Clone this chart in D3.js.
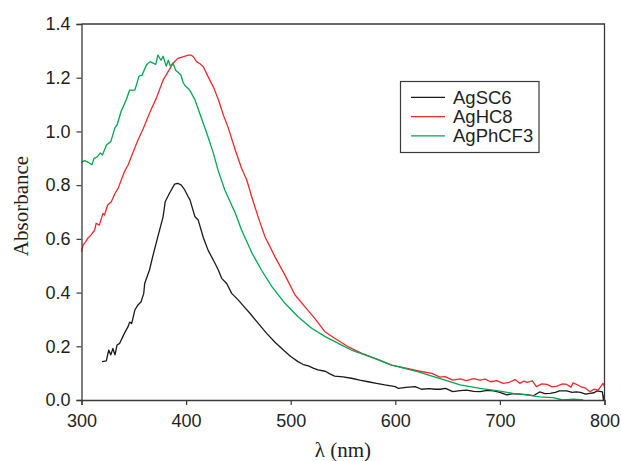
<!DOCTYPE html>
<html>
<head>
<meta charset="utf-8">
<script src="https://cdn.jsdelivr.net/npm/d3@7"></script>
<style>
  body { margin: 0; background: #fff; }
  svg { display: block; }
  .tick text { font-family: "Liberation Sans", Arial, sans-serif; font-size: 18px; fill: #231f20; }
  .title { font-family: "Liberation Serif", "Times New Roman", serif; font-size: 21px; fill: #231f20; }
  .legend text { font-family: "Liberation Sans", Arial, sans-serif; font-size: 18.5px; fill: #231f20; }
</style>
</head>
<body>
<div id="chart"></div>
<script>
const seriesNames = ['AgSC6', 'AgHC8', 'AgPhCF3'];
const seriesColors = ['#1a1a1a', '#ec2a2f', '#00a84f'];

const xTicks = [300, 400, 500, 600, 700, 800];
const yTicks = [0, 0.2, 0.4, 0.6, 0.8, 1.0, 1.2, 1.4];

const waveSC6 = [319.6, 323.7, 326, 328, 330, 332, 334, 336.5, 341, 344.5, 346, 348, 351, 354, 357, 359.5, 360.4, 365, 368, 373, 378, 380, 384, 389, 392, 395.4, 398.7, 402, 403.7, 408.5, 411.6, 416.5, 421, 427.6, 430.8, 434, 438.8, 443.6, 450, 456, 461, 469, 477, 485, 493, 500, 507, 512, 517, 522, 526, 533, 537, 542, 550, 558, 566, 574, 582, 590, 600, 603, 610, 619, 625, 632, 638, 643, 648, 655, 662, 668, 675, 681, 688, 694, 700, 706.5, 713, 719, 725, 732, 738, 743, 748, 753, 757, 764, 769, 773, 777, 782, 786, 790, 793, 798, 799, 800];
const absSC6 = [0.143, 0.146, 0.186, 0.168, 0.192, 0.168, 0.205, 0.211, 0.248, 0.273, 0.290, 0.285, 0.335, 0.354, 0.366, 0.397, 0.434, 0.484, 0.533, 0.608, 0.682, 0.738, 0.769, 0.804, 0.807, 0.800, 0.782, 0.757, 0.745, 0.682, 0.670, 0.604, 0.558, 0.509, 0.484, 0.453, 0.434, 0.397, 0.372, 0.345, 0.323, 0.285, 0.248, 0.215, 0.186, 0.162, 0.143, 0.132, 0.127, 0.118, 0.112, 0.107, 0.098, 0.089, 0.086, 0.081, 0.074, 0.068, 0.062, 0.056, 0.050, 0.043, 0.047, 0.050, 0.040, 0.042, 0.040, 0.040, 0.043, 0.031, 0.035, 0.037, 0.032, 0.031, 0.036, 0.034, 0.028, 0.019, 0.024, 0.022, 0.020, 0.016, 0.030, 0.024, 0.025, 0.028, 0.034, 0.034, 0.028, 0.030, 0.028, 0.022, 0.025, 0.027, 0.034, 0.030, 0.000, 0.020];

const waveHC8 = [300, 301.5, 304, 306, 309, 312.6, 314, 317, 320.5, 322, 325, 328.5, 332, 335, 338, 341, 344.5, 349, 354, 359, 363.6, 367, 371.5, 375, 378, 382.7, 387.5, 392, 397, 402, 405, 407, 410, 413, 416.5, 421, 426, 431, 435.6, 440, 447, 453, 458, 462.7, 469, 475.4, 485, 494.5, 504, 513.7, 523, 532.8, 542, 555, 568, 580.6, 596.5, 609, 622, 635, 642.7, 647.5, 655, 662, 668, 675, 681, 686, 691, 697, 703, 709, 714.5, 719, 723, 726, 731, 735, 740, 745, 750, 754.5, 760, 764, 768, 770, 775, 777, 782, 786, 790, 794, 798.6, 800];
const absHC8 = [0.552, 0.577, 0.590, 0.602, 0.614, 0.633, 0.658, 0.651, 0.695, 0.689, 0.726, 0.738, 0.769, 0.788, 0.819, 0.850, 0.875, 0.920, 0.968, 1.010, 1.055, 1.085, 1.123, 1.160, 1.191, 1.222, 1.253, 1.272, 1.278, 1.284, 1.284, 1.278, 1.260, 1.253, 1.241, 1.204, 1.166, 1.117, 1.061, 1.017, 0.931, 0.863, 0.819, 0.757, 0.680, 0.608, 0.533, 0.465, 0.392, 0.347, 0.304, 0.254, 0.230, 0.198, 0.174, 0.155, 0.130, 0.120, 0.108, 0.099, 0.085, 0.087, 0.074, 0.079, 0.072, 0.080, 0.074, 0.078, 0.068, 0.072, 0.062, 0.066, 0.076, 0.062, 0.070, 0.066, 0.071, 0.050, 0.060, 0.058, 0.049, 0.052, 0.060, 0.058, 0.048, 0.064, 0.055, 0.050, 0.044, 0.031, 0.040, 0.037, 0.062, 0.050];

const wavePhCF3 = [300, 303, 306, 310, 312, 315, 318, 320, 324, 328, 332, 334, 338, 343, 346, 351, 355, 358, 362, 365.5, 368, 371, 373, 376, 378, 381, 383, 385, 387.5, 390, 392, 395, 397, 399, 402, 404, 408.5, 413, 419.7, 426, 430.5, 437, 447, 453, 463, 472, 482, 494.5, 507, 520, 533, 545.5, 558, 571, 584, 596.5, 609, 622, 635, 647.5, 662, 681, 700, 712.5, 725.6, 738, 751, 760, 770, 779.5];
const absPhCF3 = [0.885, 0.891, 0.886, 0.876, 0.900, 0.905, 0.920, 0.912, 0.950, 0.962, 1.014, 1.024, 1.076, 1.120, 1.154, 1.154, 1.206, 1.210, 1.247, 1.260, 1.255, 1.250, 1.284, 1.265, 1.280, 1.243, 1.265, 1.243, 1.255, 1.228, 1.221, 1.210, 1.184, 1.170, 1.160, 1.150, 1.117, 1.068, 0.994, 0.920, 0.856, 0.782, 0.696, 0.633, 0.547, 0.484, 0.422, 0.360, 0.310, 0.267, 0.236, 0.211, 0.186, 0.168, 0.149, 0.130, 0.118, 0.105, 0.089, 0.074, 0.056, 0.043, 0.033, 0.025, 0.019, 0.012, 0.009, 0.000, 0.003, 0.000];

const series = [
  { name: seriesNames[0], color: seriesColors[0], pts: waveSC6.map((w, i) => [w, absSC6[i]]) },
  { name: seriesNames[1], color: seriesColors[1], pts: waveHC8.map((w, i) => [w, absHC8[i]]) },
  { name: seriesNames[2], color: seriesColors[2], pts: wavePhCF3.map((w, i) => [w, absPhCF3[i]]) }
];

const width = 621, height = 461;
const margin = { top: 24, right: 16.5, bottom: 61, left: 81.5 };

const svg = d3.select('#chart')
  .append('svg')
  .attr('width', width)
  .attr('height', height);

const x = d3.scaleLinear()
  .domain([300, 800])
  .range([margin.left, width - margin.right]);

const y = d3.scaleLinear()
  .domain([0, 1.4])
  .range([height - margin.bottom, margin.top]);

const line = d3.line()
  .x(d => x(d[0]))
  .y(d => y(d[1]));

svg.append('g')
  .selectAll('path')
  .data(series)
  .join('path')
  .attr('fill', 'none')
  .attr('stroke', d => d.color)
  .attr('stroke-width', 1.3)
  .attr('stroke-linejoin', 'round')
  .attr('d', d => line(d.pts));

// frame: top and right edges
svg.append('path')
  .attr('fill', 'none')
  .attr('stroke', '#3a3a3a')
  .attr('stroke-width', 1.3)
  .attr('d', `M${x(300)},${y(1.4)}H${x(800)}V${y(0)}`);

function xAxis(g) {
  g.attr('transform', `translate(0,${y(0)})`)
    .call(d3.axisBottom(x).tickValues(xTicks).tickFormat(d3.format('d')).tickSize(5).tickPadding(9))
    .call(g => g.select('.domain').attr('stroke', '#3a3a3a').attr('stroke-width', 1.3))
    .call(g => g.selectAll('.tick line').attr('stroke', '#3a3a3a').attr('stroke-width', 1.2));
}

function yAxis(g) {
  g.attr('transform', `translate(${x(300)},0)`)
    .call(d3.axisLeft(y).tickValues(yTicks).tickFormat(d3.format('.1f')).tickSize(5).tickPadding(6))
    .call(g => g.select('.domain').attr('stroke', '#3a3a3a').attr('stroke-width', 1.3))
    .call(g => g.selectAll('.tick line').attr('stroke', '#3a3a3a').attr('stroke-width', 1.2));
}

svg.append('g').call(xAxis);
svg.append('g').call(yAxis);

svg.append('text')
  .attr('class', 'title')
  .attr('x', 343)
  .attr('y', 457)
  .attr('text-anchor', 'middle')
  .text('λ (nm)');

svg.append('text')
  .attr('class', 'title')
  .attr('transform', 'translate(28,206) rotate(-90)')
  .attr('text-anchor', 'middle')
  .text('Absorbance');

// legend
const legend = svg.append('g').attr('class', 'legend');
legend.append('rect')
  .attr('x', 400.5).attr('y', 81.5)
  .attr('width', 138.5).attr('height', 71)
  .attr('fill', '#fff')
  .attr('stroke', '#3a3a3a')
  .attr('stroke-width', 1.2);

const item = legend.selectAll('g.item')
  .data(series)
  .join('g')
  .attr('class', 'item')
  .attr('transform', (d, i) => `translate(411,${97.3 + i * 19.3})`);

item.append('line')
  .attr('x1', 0).attr('x2', 34)
  .attr('stroke', d => d.color)
  .attr('stroke-width', 1.3);

item.append('text')
  .attr('x', 42)
  .attr('dy', '0.35em')
  .text(d => d.name);
</script>
</body>
</html>
